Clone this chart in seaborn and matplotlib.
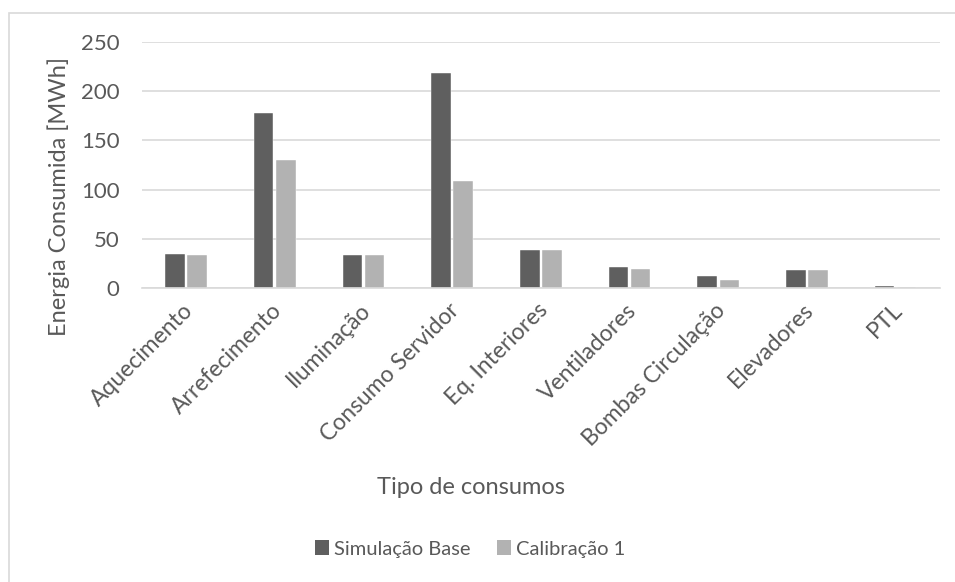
import pandas as pd
import matplotlib
matplotlib.use("Agg")
import matplotlib.pyplot as plt
import matplotlib.patches as mpatches
import matplotlib.transforms as mtransforms
import seaborn as sns

# ── data ────────────────────────────────────────────────────────────────────
categorias = ["Aquecimento", "Arrefecimento", "Iluminação", "Consumo Servidor",
              "Eq. Interiores", "Ventiladores", "Bombas Circulação",
              "Elevadores", "PTL"]
simulacao_base = [34.0, 177.6, 33.6, 218.7, 38.7, 21.4, 11.9, 18.3, 1.7]
calibracao_1   = [33.0, 130.1, 33.6, 109.0, 38.7, 19.4, 7.8, 18.3, 1.2]
series_names   = ["Simulação Base", "Calibração 1"]
y_ticks        = [0, 50, 100, 150, 200, 250]

DARK  = "#5f5f5f"
LIGHT = "#b2b2b2"
TEXT  = "#595959"
GRID  = "#d9d9d9"

df = pd.DataFrame({
    "cat": categorias * 2,
    "serie": [series_names[0]] * len(categorias) + [series_names[1]] * len(categorias),
    "valor": simulacao_base + calibracao_1,
})

sns.set_style("white")
plt.rcParams["font.family"] = ["Lato", "DejaVu Sans"]

W, H = 955, 582
fig = plt.figure(figsize=(W / 100, H / 100), dpi=100)
ax = fig.add_axes([141.7 / W, 1 - 287.7 / H, (940 - 141.7) / W, (287.7 - 42.3) / H])

sns.barplot(data=df, x="cat", y="valor", hue="serie", order=categorias,
            hue_order=series_names, palette=[DARK, LIGHT], width=0.5, gap=0.12,
            edgecolor="white", linewidth=0.3, ax=ax, legend=False)

ax.set_xlim(-0.5, len(categorias) - 0.5)
ax.set_ylim(0, 250)
ax.set_yticks(y_ticks)
ax.yaxis.grid(True, color=GRID, linewidth=1.2)
ax.set_axisbelow(True)
for s in ["top", "right", "left"]:
    ax.spines[s].set_visible(False)
ax.spines["bottom"].set_color(GRID)
ax.spines["bottom"].set_linewidth(1.2)
ax.tick_params(axis="both", length=0, colors=TEXT)
ax.tick_params(axis="y", pad=16, labelsize=16)
ax.tick_params(axis="x", pad=10, labelsize=16.5)
shift = mtransforms.ScaledTranslation(-4 / 100, 2 / 100, fig.dpi_scale_trans)
for lbl in ax.get_xticklabels():
    lbl.set_rotation(45)
    lbl.set_ha("right")
    lbl.set_va("top")
    lbl.set_rotation_mode("anchor")
    lbl.set_transform(lbl.get_transform() + shift)

ax.set_xlabel("Tipo de consumos", fontsize=17, color=TEXT)
ax.xaxis.set_label_coords(470.5 / W, 1 - 487 / H, transform=fig.transFigure)
ax.xaxis.label.set_va("center")
ax.set_ylabel("Energia Consumida [MWh]", fontsize=17, color=TEXT)
ax.yaxis.set_label_coords(59 / W, 1 - 196 / H, transform=fig.transFigure)
ax.yaxis.label.set_va("center")

handles = [mpatches.Patch(facecolor=c, edgecolor="none", label=n)
           for c, n in zip([DARK, LIGHT], series_names)]
fig.legend(handles=handles, loc="center", bbox_to_anchor=(470 / W, 1 - 549 / H),
           ncol=2, frameon=False, fontsize=14.5, handlelength=0.7, handleheight=0.7,
           handletextpad=0.25, columnspacing=1.3, labelcolor=TEXT)

# chart-area frame
fig.patches.append(mpatches.Rectangle((9 / W, -0.02), 1.0, 1 - 13 / H + 0.02,
                                      transform=fig.transFigure, fill=False,
                                      edgecolor=GRID, linewidth=1.2))

fig.savefig("out.png", dpi=100)
